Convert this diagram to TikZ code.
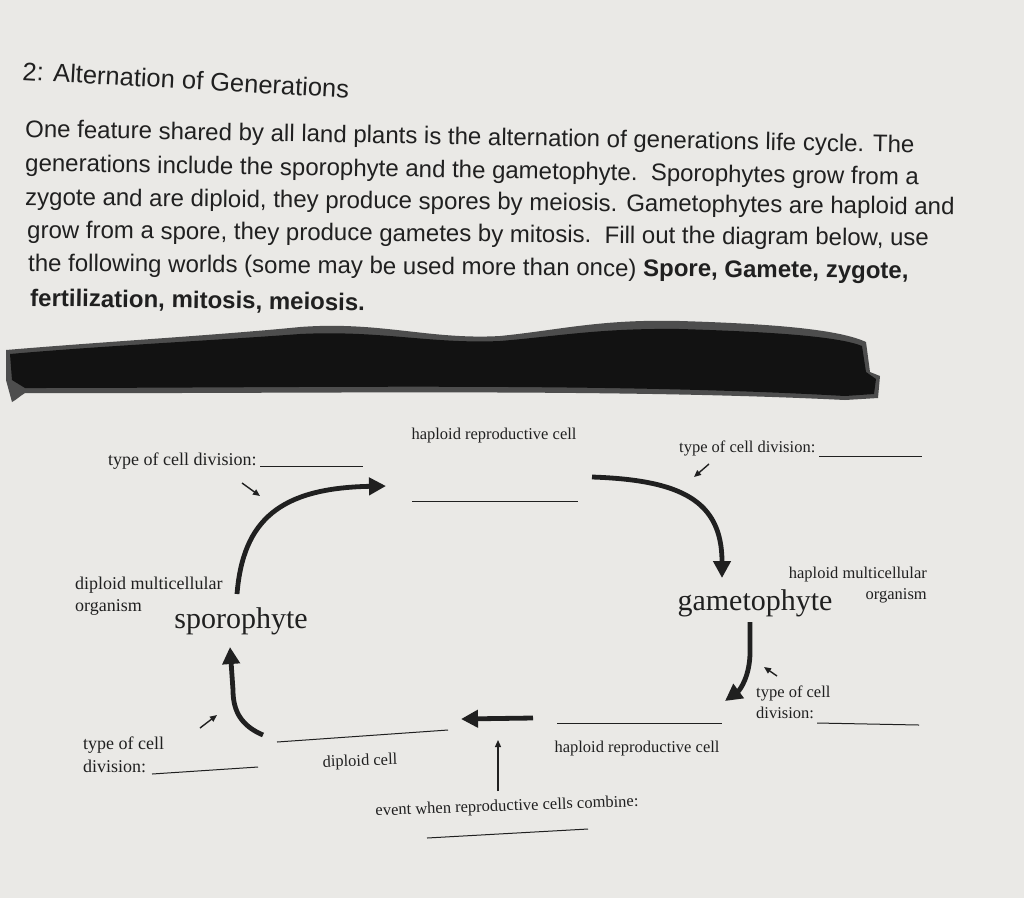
\documentclass[tikz,border=0pt]{standalone}
\usepackage{fontspec}
\setmainfont{Liberation Serif}
\newfontfamily\sheetsans{Liberation Sans}
\usetikzlibrary{arrows.meta, positioning}
\definecolor{Paper}{RGB}{234,233,230}
\definecolor{Ink}{RGB}{32,32,32}
\definecolor{Marker}{RGB}{18,18,18}

\begin{document}
\begin{tikzpicture}[x=1pt, y=-1pt,
    bodyline/.style={anchor=base west, inner sep=0pt, text=Ink, font=\sheetsans\fontsize{24}{28}\selectfont},
    cellnote/.style={inner sep=0pt, text=Ink, font=\fontsize{16.5}{19}\selectfont},
    bignote/.style={cellnote, font=\fontsize{18}{21}\selectfont},
    lifestage/.style={inner sep=0pt, text=Ink, font=\fontsize{30}{34}\selectfont},
    answerline/.style={draw=Ink, line width=1pt},
    bigarrow/.style={draw=Ink, line width=4.8pt, -{Triangle[length=17pt,width=17pt]}},
    pointer/.style={draw=Ink, line width=1.4pt, -{Triangle[length=7pt,width=6pt]}}]
    \useasboundingbox (0,0) rectangle (1024,898);
    \fill[Paper] (0,0) rectangle (1024,898);

    % Heading and instructions
    \node[bodyline, font=\sheetsans\fontsize{25.5}{30}\selectfont, rotate=-3.2] (title) at (22,80) {2: Alternation of Generations};
    \node[bodyline, rotate=-1.0] (line1) at (25,137) {One feature shared by all land plants is the alternation of generations life cycle. The};
    \node[bodyline, rotate=-0.9] (line2) at (25,171) {generations include the sporophyte and the gametophyte.\ \ Sporophytes grow from a};
    \node[bodyline, rotate=-0.6] (line3) at (25,205) {zygote and are diploid, they produce spores by meiosis. Gametophytes are haploid and};
    \node[bodyline, rotate=-0.5] (line4) at (27,238) {grow from a spore, they produce gametes by mitosis.\ \ Fill out the diagram below, use};
    \node[bodyline, rotate=-0.5] (line5) at (28,271) {the following worlds (some may be used more than once) \textbf{Spore, Gamete, zygote,}};
    \node[bodyline, rotate=-0.8] (line6) at (30,306) {\textbf{fertilization, mitosis, meiosis.}};

    % Marker stroke
    \fill[Marker!75] (6,350) .. controls (100,342) and (220,335) .. (300,327) .. controls (380,321) and (430,340) .. (500,336) .. controls (560,330) and (600,319) .. (680,321) .. controls (780,324) and (840,330) .. (866,342) -- (870,372) -- (880,376) -- (878,398) -- (845,400) .. controls (600,388) and (300,394) .. (25,393) .. controls (20,396) and (16,400) .. (12,402) -- (6,380) -- cycle;
    \fill[Marker] (10,354) .. controls (100,346) and (220,340) .. (300,334) .. controls (380,330) and (430,344) .. (500,341) .. controls (560,336) and (600,328) .. (680,329) .. controls (780,332) and (840,337) .. (862,346) -- (866,372) -- (876,379) -- (874,394) -- (845,396) .. controls (600,382) and (300,388) .. (25,388) -- (12,380) -- cycle;

    % Top labels
    \node[cellnote] (hapTop) at (494,436) {haploid reproductive cell};
    \node[bignote, anchor=base west] (divTL) at (108,465) {type of cell division:};
    \node[cellnote, anchor=base west] (divTR) at (679,452) {type of cell division:};
    \draw[answerline] (260,466) -- (363,466);
    \draw[answerline] (819,456) -- (922,456);
    \draw[answerline] (412,501) -- (578,501);

    % Generations
    \node[lifestage] (sporo) at (241,621) {sporophyte};
    \node[lifestage] (gameto) at (755,603) {gametophyte};
    \node[bignote, anchor=base west] (dipA) at (75,589) {diploid multicellular};
    \node[bignote, anchor=base west] (dipB) at (75,611) {organism};
    \node[cellnote, anchor=base east] (hapA) at (927,578) {haploid multicellular};
    \node[cellnote, anchor=base east] (hapB) at (927,599) {organism};

    % Bottom labels
    \node[cellnote, anchor=base west] (divBR) at (756,697) {type of cell};
    \node[cellnote, anchor=base west] (divBRb) at (756,718) {division:};
    \node[bignote, anchor=base west] (divBL) at (83,749) {type of cell};
    \node[bignote, anchor=base west] (divBLb) at (83,772) {division:};
    \node[cellnote, rotate=2] (dipCell) at (360,762) {diploid cell};
    \node[cellnote] (hapBot) at (637,749) {haploid reproductive cell};
    \node[cellnote, rotate=2] (event) at (507,807) {event when reproductive cells combine:};
    \draw[answerline] (817,723) -- (919,725);
    \draw[answerline] (152,774) -- (258,767);
    \draw[answerline] (277,742) -- (448,730);
    \draw[answerline] (557,723) -- (722,723);
    \draw[answerline] (427,838) -- (588,829);

    % Cycle arrows
    \coordinate (sporoOut) at (237,594);
    \coordinate (sporeTip) at (386,486);
    \coordinate (gametoIn) at (592,477);
    \coordinate (gametoTip) at (722,578);
    \coordinate (gametoOut) at (750,622);
    \coordinate (gameteTip) at (725,701);
    \coordinate (fuseStart) at (533,718);
    \coordinate (fuseTip) at (461,719);
    \coordinate (zygoteOut) at (263,735);
    \coordinate (sporoTip) at (230,647);
    \draw[bigarrow] (sporoOut) .. controls (243,520) and (280,488) .. (sporeTip);
    \draw[bigarrow] (gametoIn) .. controls (680,480) and (722,500) .. (gametoTip);
    \draw[bigarrow] (gametoOut) -- (750,652) .. controls (750,676) and (740,690) .. (gameteTip);
    \draw[bigarrow] (fuseStart) -- (fuseTip);
    \draw[bigarrow] (zygoteOut) .. controls (242,726) and (233,712) .. (233,690) -- (sporoTip);

    % Small pointers
    \coordinate (pA0) at (242,483); \coordinate (pA1) at (260,496);
    \coordinate (pB0) at (709,464); \coordinate (pB1) at (694,477);
    \coordinate (pC0) at (777,676); \coordinate (pC1) at (764,667);
    \coordinate (pD0) at (200,728); \coordinate (pD1) at (217,715);
    \coordinate (evUp0) at (498,791); \coordinate (evUp1) at (498,740);
    \draw[pointer] (pA0) -- (pA1);
    \draw[pointer] (pB0) -- (pB1);
    \draw[pointer] (pC0) -- (pC1);
    \draw[pointer] (pD0) -- (pD1);
    \draw[pointer, line width=1.2pt] (evUp0) -- (evUp1);
\end{tikzpicture}
\end{document}
